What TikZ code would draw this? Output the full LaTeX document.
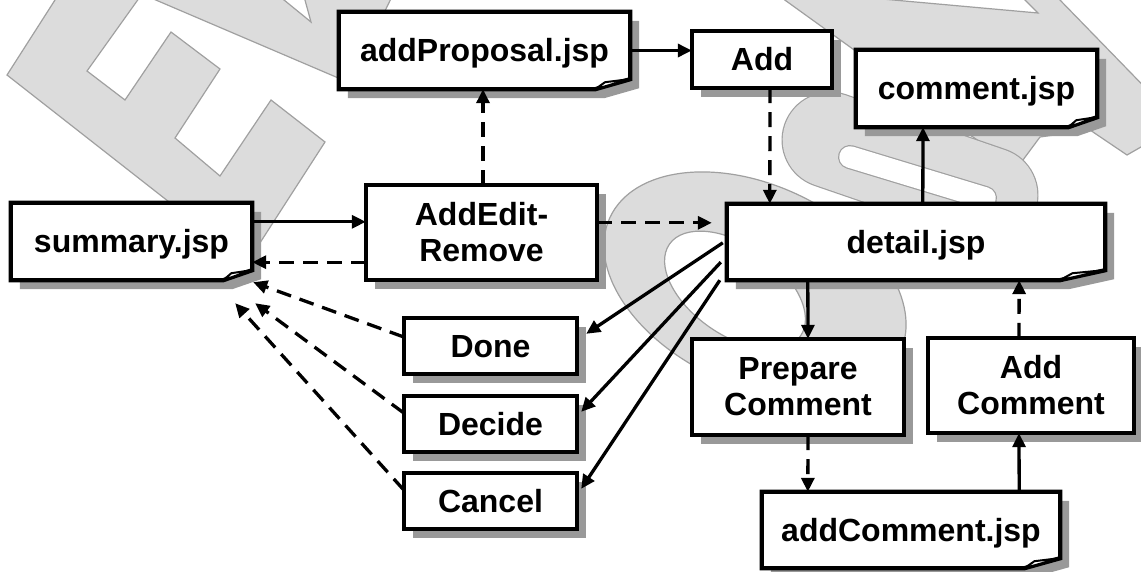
\documentclass[tikz,border=0pt]{standalone}
\usepackage{fontspec}
\setmainfont{Liberation Sans}
\usetikzlibrary{arrows.meta,calc}
\definecolor{wmfill}{HTML}{DCDCDC}
\definecolor{wmline}{HTML}{A0A0A0}
\definecolor{shadowc}{HTML}{999999}
\pgfdeclarelayer{wml}
\pgfdeclarelayer{boxl}
\pgfsetlayers{wml,boxl,main}
\tikzset{
  wm/.style={fill=wmfill,draw=wmline,line width=1.2pt,line join=miter},
  wmhole/.style={fill=white,draw=wmline,line width=1.2pt},
  lbl/.style={rectangle,inner sep=0pt,font=\fontsize{32}{36}\selectfont\bfseries,align=center},
  one/.style={text height=23pt,text depth=1pt},
  boxline/.style={draw=black,fill=white,line width=4.3pt,line join=miter},
  foldline/.style={draw=black,fill=white,line width=2pt,line join=round},
  solidarr/.style={line width=3.3pt,-{Triangle[length=14pt,width=13pt]}},
  dasharr/.style={solidarr,dash pattern=on 15pt off 9pt}
}
\newcommand\plainbox[1]{%
  \begin{pgfonlayer}{boxl}
  \fill[shadowc] ([shift={(9pt,-9pt)}]#1.south west) rectangle ([shift={(9pt,-9pt)}]#1.north east);
  \draw[boxline] (#1.south west) rectangle (#1.north east);
  \end{pgfonlayer}}
\newcommand\docbox[1]{%
  \begin{pgfonlayer}{boxl}
  \fill[shadowc] let \p1=(#1.south west), \p2=(#1.north east), \n1={0.12*(\x2-\x1)} in
    (\x1+9pt,\y1-9pt) -- (\x1+9pt,\y2-9pt) -- (\x2+9pt,\y2-9pt) -- (\x2+9pt,\y1+1pt) -- (\x2-\n1+9pt,\y1-9pt) -- cycle;
  \draw[boxline] let \p1=(#1.south west), \p2=(#1.north east), \n1={0.12*(\x2-\x1)} in
    (\x1,\y1) -- (\x1,\y2) -- (\x2,\y2) -- (\x2,\y1+10pt) -- (\x2-\n1,\y1) -- cycle;
  \draw[foldline] let \p1=(#1.south west), \p2=(#1.north east), \n1={0.12*(\x2-\x1)} in
    (\x2-\n1,\y1) -- (\x2-0.72*\n1,\y1+7pt) -- (\x2-1pt,\y1+10pt) -- cycle;
  \end{pgfonlayer}}
\begin{document}
\begin{tikzpicture}[x=1pt,y=-1pt]
\useasboundingbox (0,0) rectangle (1141,571);
% ---------- watermark ----------
\begin{pgfonlayer}{wml}
\begin{scope}
\clip (0,0) rectangle (1141,571);
\path[wm] (67.8,-20) -- (7,75) -- (247,263) -- (325,142) -- (271,100) -- (220,176) -- (175,138) -- (220,69) -- (171,32) -- (125,100) -- (87,71) -- (152,-20) -- cycle;
\path[wm] (109,-20) -- (350,83) -- (400,-20) -- (299.5,-20) -- (311,22) -- (259.5,-20) -- cycle;
\path[wm,even odd rule] (755,285) ellipse [x radius=160, y radius=100, rotate=-25]
                        (735,290) ellipse [x radius=80, y radius=45, rotate=-35];
\path[wm] (757,-20) -- (857,52) -- (930,110) -- (973,137) -- (1017,168) -- (1040,137) -- (1090,130) -- (1127,155) -- (1141,147) -- (1165,133) -- (1165,108) -- (1040.5,-20) -- cycle;
\path[wmhole] (860,-3) -- (1038,13) -- (1022,-3) -- cycle;
\draw[wmline,line width=97pt,line cap=round] (830,140) -- (990,195);
\draw[wmfill,line width=94.6pt,line cap=round] (830,140) -- (990,195);
\draw[wmline,line width=24pt,line cap=round] (850,157) -- (985,198);
\draw[white,line width=21.6pt,line cap=round] (850,157) -- (985,198);
\end{scope}
\end{pgfonlayer}
% ---------- nodes ----------
\node[lbl,one,minimum width=241pt,minimum height=77pt] (summary) at (131.5,241.5) {summary.jsp};
\node[lbl,one,minimum width=291pt,minimum height=77pt] (addProposal) at (484.5,50.5) {addProposal.jsp};
\node[lbl,one,minimum width=140pt,minimum height=57pt] (Add) at (762,59.5) {Add};
\node[lbl,one,minimum width=241pt,minimum height=77pt] (comment) at (976.5,88.5) {comment.jsp};
\node[lbl,minimum width=231pt,minimum height=95pt] (AddEdit) at (481.5,232.5) {AddEdit-\\Remove};
\node[lbl,one,minimum width=378pt,minimum height=76pt] (detail) at (916,242) {detail.jsp};
\node[lbl,one,minimum width=173pt,minimum height=56pt] (Done) at (490.5,346) {Done};
\node[lbl,one,minimum width=173pt,minimum height=56pt] (Decide) at (490.5,424) {Decide};
\node[lbl,one,minimum width=173pt,minimum height=56pt] (Cancel) at (490.5,501) {Cancel};
\node[lbl,minimum width=212pt,minimum height=96pt] (Prepare) at (798,387) {Prepare\\Comment};
\node[lbl,minimum width=206pt,minimum height=95pt] (AddComment) at (1031,385.5) {Add\\Comment};
\node[lbl,one,minimum width=298pt,minimum height=76pt] (addComment) at (911,530) {addComment.jsp};
\docbox{summary}
\docbox{addProposal}
\plainbox{Add}
\docbox{comment}
\plainbox{AddEdit}
\docbox{detail}
\plainbox{Done}
\plainbox{Decide}
\plainbox{Cancel}
\plainbox{Prepare}
\plainbox{AddComment}
\docbox{addComment}
% ---------- connectors ----------
\draw[solidarr] ([yshift=-19pt]summary.north east) -- ([yshift=-37pt]AddEdit.north west);
\draw[dasharr] ([yshift=18pt]AddEdit.south west) -- ([yshift=18pt]summary.south east);
\draw[dasharr] ([xshift=1.5pt]AddEdit.north) -- ([xshift=-1.5pt]addProposal.south);
\draw[solidarr] (addProposal.east) -- (addProposal.east -| Add.west);
\draw[dasharr] ([xshift=8pt]Add.south) -- ([xshift=43pt]detail.north west);
\draw[dasharr,shorten >=15pt] ([yshift=-38pt]AddEdit.north east) -- ([yshift=-19pt]detail.north west);
\draw[solidarr] ([xshift=196pt]detail.north west) -- ([xshift=-53.5pt]comment.south);
\draw[solidarr] ([xshift=81pt]detail.south west) -- ([xshift=10pt]Prepare.north);
\draw[dasharr] ([xshift=10pt]Prepare.south) -- ([xshift=46pt]addComment.north west);
\draw[solidarr] ([xshift=-41pt]addComment.north east) -- ([xshift=-12pt]AddComment.south);
\draw[dasharr] ([xshift=-12pt]AddComment.north) -- ([xshift=-86pt]detail.south east);
\draw[solidarr] ([xshift=-4pt,yshift=-39pt]detail.north west) -- ([xshift=9pt,yshift=-16pt]Done.north east);
\draw[solidarr] ([xshift=-6pt,yshift=18pt]detail.south west) -- ([xshift=4pt,yshift=-16pt]Decide.north east);
\draw[solidarr] ([xshift=-7pt]detail.south west) -- ([xshift=4pt,yshift=-16pt]Cancel.north east);
\draw[dasharr] ([yshift=9pt]Done.west) -- ([xshift=1pt,yshift=-2pt]summary.south east);
\draw[dasharr] ([yshift=11pt]Decide.west) -- ([xshift=3pt,yshift=-23pt]summary.south east);
\draw[dasharr] ([yshift=11pt]Cancel.west) -- ([xshift=-17pt,yshift=-23pt]summary.south east);
\end{tikzpicture}
\end{document}
